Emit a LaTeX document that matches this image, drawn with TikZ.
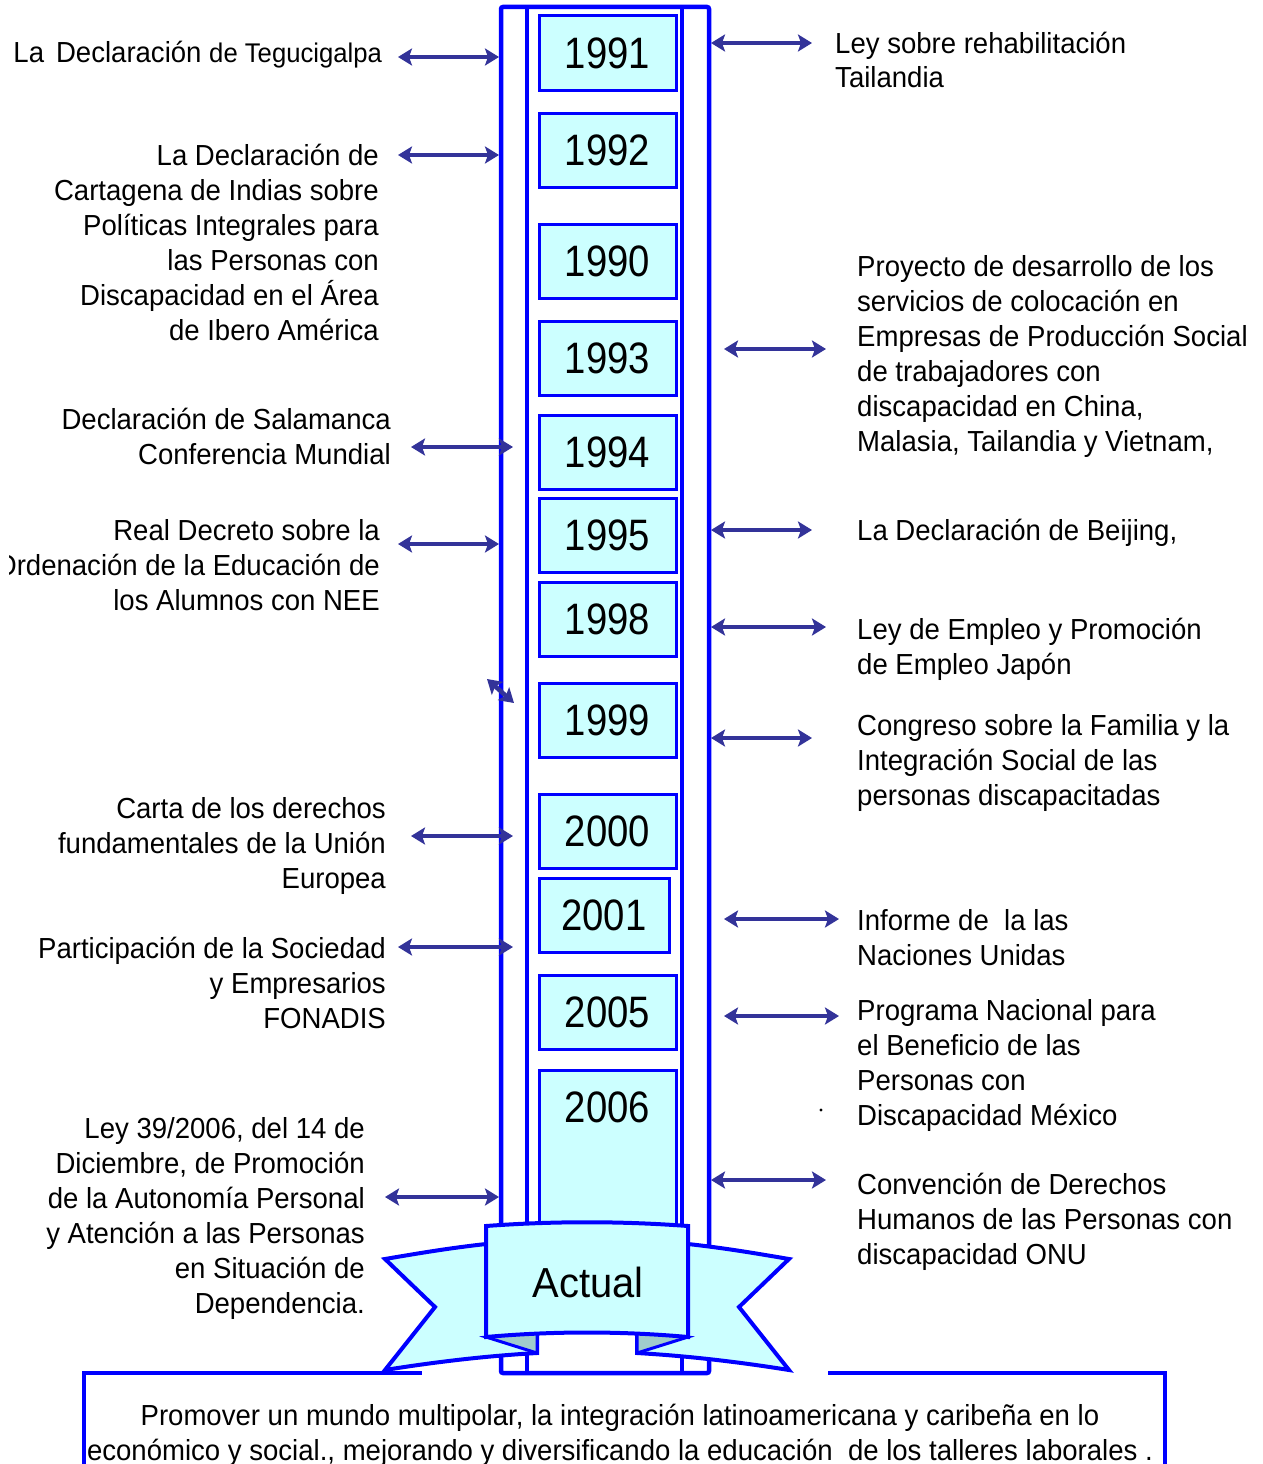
\documentclass[tikz,border=0pt]{standalone}
\usepackage{fontspec}
\setmainfont{Liberation Sans}[FakeStretch=0.95]
\newfontfamily\yearfont{Liberation Sans}[FakeStretch=0.87]
\usetikzlibrary{arrows.meta}
\definecolor{colblue}{RGB}{0,0,255}
\definecolor{boxfill}{RGB}{204,255,255}
\definecolor{arrowblue}{RGB}{51,51,153}
\definecolor{foldfill}{RGB}{160,204,204}
\tikzset{
  column/.style={draw=colblue, line width=4.5pt},
  yearbox/.style={draw=colblue, fill=boxfill, line width=3pt, minimum width=137pt,
    minimum height=74pt, inner sep=0pt, font=\yearfont\fontsize{44}{50}\selectfont},
  note/.style={inner sep=0pt, font=\fontsize{29}{35}\selectfont},
  % multi-line notes are placed by the baseline of their last line
  lnote/.style={note, align=right, anchor=base east},
  rnote/.style={note, align=left, anchor=base west},
  tip/.tip={Stealth[length=14pt, width=17pt, inset=3pt]},
  link/.style={draw=arrowblue, line width=4.5pt, tip-tip},
  ribbon/.style={draw=colblue, fill=boxfill, line width=4pt},
  fold/.style={draw=colblue, fill=foldfill, line width=3pt},
}
\begin{document}
\begin{tikzpicture}[x=1pt, y=-1pt]
\useasboundingbox (0,0) rectangle (1263,1464);
\fill[white] (0,0) rectangle (1263,1464);
\clip (9,0) rectangle (1263,1464);

% the timeline column
\draw[column, rounded corners=2pt] (501,7) rectangle (709,1373);
\draw[column] (527,7) -- (527,1373);
\draw[column] (682,7) -- (682,1373);

% year boxes
\node[yearbox] (y1991) at (607.5,53) {1991};
\node[yearbox] (y1992) at (607.5,150) {1992};
\node[yearbox] (y1990) at (607.5,261) {1990};
\node[yearbox] (y1993) at (607.5,358) {1993};
\node[yearbox] (y1994) at (607.5,452) {1994};
\node[yearbox] (y1995) at (607.5,535) {1995};
\node[yearbox] (y1998) at (607.5,619) {1998};
\node[yearbox] (y1999) at (607.5,720) {1999};
\node[yearbox] (y2000) at (607.5,831) {2000};
\node[yearbox, minimum width=130pt] (y2001) at (604,915) {2001};
\node[yearbox] (y2005) at (607.5,1012) {2005};
\draw[draw=colblue, fill=boxfill, line width=3pt] (539,1070) rectangle (676,1240);
\node[inner sep=0pt, font=\yearfont\fontsize{44}{50}\selectfont] (y2006) at (607.5,1107) {2006};

% banner wings
\draw[ribbon] (486,1244) .. controls (450,1248) and (420,1253) .. (385,1259)
  -- (435,1307) -- (385,1370) .. controls (435,1362) and (485,1356) .. (537,1353)
  -- (537,1300) -- cycle;
\draw[ribbon] (688,1244) .. controls (724,1248) and (754,1253) .. (789,1259)
  -- (739,1307) -- (789,1370) .. controls (739,1362) and (689,1356) .. (637,1353)
  -- (637,1300) -- cycle;
\draw[fold] (486,1337) -- (537,1353) -- (537,1330) -- cycle;
\draw[fold] (688,1337) -- (637,1353) -- (637,1330) -- cycle;
\draw[ribbon] (486,1226) .. controls (553,1221) and (621,1221) .. (688,1226)
  -- (688,1337) .. controls (621,1331) and (553,1331) .. (486,1337) -- cycle;
\node[inner sep=0pt, font=\fontsize{42}{48}\selectfont] (actual) at (588,1282) {Actual};

% closing statement box
\draw[column] (83,1373) -- (422,1373);
\draw[column] (828,1373) -- (1166,1373);
\draw[column] (84,1371) -- (84,1470);
\draw[column] (1165,1371) -- (1165,1470);
\node[note, align=center, anchor=base] (goal) at (620,1460)
  {Promover un mundo multipolar, la integración latinoamericana y caribeña en lo\\
   económico y social., mejorando y diversificando la educación\ \ de los talleres laborales .};

% left-hand events
\node[lnote] (teg) at (382,63) {La\hspace{12pt}Declaración {\fontsize{27}{35}\selectfont de Tegucigalpa}};
\node[lnote] (cart) at (379,340) {La Declaración de\\Cartagena de Indias sobre\\Políticas Integrales para\\las Personas con\\Discapacidad en el Área\\de Ibero América};
\node[lnote] (sal) at (391,464) {Declaración de Salamanca\\Conferencia Mundial};
\node[lnote] (real) at (380,610) {Real Decreto sobre la\\Ordenación de la Educación de\\los Alumnos con NEE};
\node[lnote] (carta) at (386,888) {Carta de los derechos\\fundamentales de la Unión\\Europea};
\node[lnote] (part) at (386,1028) {Participación de la Sociedad\\y Empresarios\\FONADIS};
\node[lnote] (ley39) at (365,1313) {Ley 39/2006, del 14 de\\Diciembre, de Promoción\\de la Autonomía Personal\\y Atención a las Personas\\en Situación de\\Dependencia.};

% right-hand events
\node[rnote] (tai) at (835,88) {Ley sobre rehabilitación\\Tailandia};
\node[rnote] (proy) at (857,451) {Proyecto de desarrollo de los\\servicios de colocación en\\Empresas de Producción Social\\de trabajadores con\\discapacidad en China,\\Malasia, Tailandia y Vietnam,};
\node[rnote] (bei) at (857,540) {La Declaración de Beijing,};
\node[rnote] (jap) at (857,674) {Ley de Empleo y Promoción\\de Empleo Japón};
\node[rnote] (fam) at (857,805) {Congreso sobre la Familia y la\\Integración Social de las\\personas discapacitadas};
\node[rnote] (onu1) at (857,965) {Informe de\ \ la las\\Naciones Unidas};
\node[rnote] (mex) at (857,1125) {Programa Nacional para\\el Beneficio de las\\Personas con\\Discapacidad México};
\node[rnote] (onu2) at (857,1264) {Convención de Derechos\\Humanos de las Personas con\\discapacidad ONU};
\fill (821,1110) circle (1.6pt);

% connectors, left side
\draw[link] (398,57) coordinate (tegA) -- (499,57) coordinate (tegB);
\draw[link] (398,155) coordinate (cartA) -- (499,155) coordinate (cartB);
\draw[link] (411,447) coordinate (salA) -- (513,447) coordinate (salB);
\draw[link] (398,544) coordinate (realA) -- (499,544) coordinate (realB);
\draw[link] (487,679) coordinate (strayA) -- (514,703) coordinate (strayB);
\draw[link] (411,836) coordinate (cartaA) -- (513,836) coordinate (cartaB);
\draw[link] (398,947) coordinate (partA) -- (513,947) coordinate (partB);
\draw[link] (385,1197) coordinate (leyA) -- (499,1197) coordinate (leyB);

% connectors, right side
\draw[link] (711,43) coordinate (taiA) -- (812,43) coordinate (taiB);
\draw[link] (724,349) coordinate (proyA) -- (826,349) coordinate (proyB);
\draw[link] (711,530) coordinate (beiA) -- (812,530) coordinate (beiB);
\draw[link] (711,627) coordinate (japA) -- (826,627) coordinate (japB);
\draw[link] (711,738) coordinate (famA) -- (812,738) coordinate (famB);
\draw[link] (724,919) coordinate (onuA) -- (839,919) coordinate (onuB);
\draw[link] (724,1016) coordinate (mexA) -- (839,1016) coordinate (mexB);
\draw[link] (711,1180) coordinate (convA) -- (826,1180) coordinate (convB);
\end{tikzpicture}
\end{document}
